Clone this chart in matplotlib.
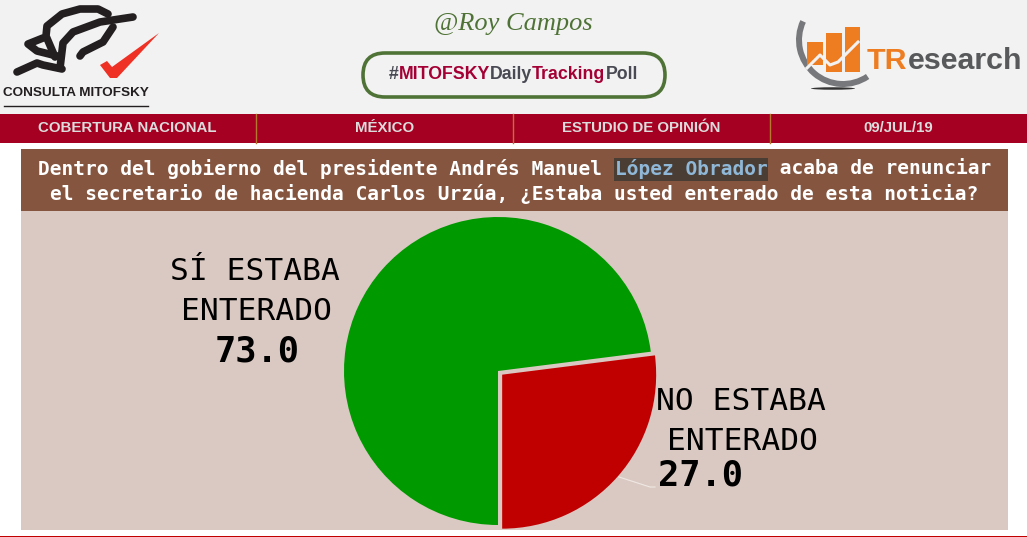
import matplotlib
matplotlib.use("Agg")
import matplotlib.pyplot as plt
from matplotlib.patches import Rectangle, FancyBboxPatch, Polygon, Ellipse, Wedge

# datos
categorias = ["NO ESTABA", "SÍ ESTABA"]
valores = [27.0, 73.0]
colores = ["#C00000", "#009900"]
encabezado = ["COBERTURA NACIONAL", "MÉXICO", "ESTUDIO DE OPINIÓN", "09/JUL/19"]
linea1 = ["Dentro del gobierno del presidente Andrés Manuel ", "López Obrador", " acaba de renunciar"]
linea2 = "el secretario de hacienda Carlos Urzúa, ¿Estaba usted enterado de esta noticia?"
hashtag = [("#", "#4A4A55"), ("MITOFSKY", "#A50035"), ("Daily", "#4A4A55"),
           ("Tracking", "#A50035"), ("Poll", "#4A4A55")]

W, H = 1027, 537
MONO = "DejaVu Sans Mono"
ARIAL = "Liberation Sans"

fig = plt.figure(figsize=(W / 100, H / 100), dpi=100, facecolor="white")

# fondo en coordenadas de pixel
bg = fig.add_axes([0, 0, 1, 1])
bg.set_xlim(0, W)
bg.set_ylim(H, 0)
bg.axis("off")


def caja(x0, y0, x1, y1, color, z=1):
    bg.add_patch(Rectangle((x0, y0), x1 - x0, y1 - y0, fc=color, ec="none", zorder=z))


def texto_seguido(x, y, partes, size, family, weight="bold"):
    # escribe trozos de distinto color uno tras otro
    r = fig.canvas.get_renderer()
    for s, c in partes:
        t = bg.text(x, y, s, color=c, fontsize=size, family=family, weight=weight,
                    ha="left", va="center", zorder=5)
        x += t.get_window_extent(r).width


caja(0, 0, W, 114, "#F2F2F2")
caja(0, 114, W, 143, "#A50021")
for xs in [256, 513, 770]:
    bg.plot([xs, xs], [114, 143], color="#B5782F", lw=1, zorder=2)
for i, s in enumerate(encabezado):
    bg.text(127.5 + i * 257, 128, s, color="#DCDCDC", fontsize=10.8, family=ARIAL,
            weight="bold", ha="center", va="center", zorder=3)

caja(21, 149, 1008, 211, "#85553F")
caja(21, 211, 1008, 530, "#DAC9C2")
caja(0, 535.5, W, 537, "#C00000")

# pregunta
paso = 11.77
y1, y2 = 169, 194
caja(614, 158, 768, 181, "#4A3D34", z=2)
bg.text(38, y1, linea1[0], color="white", fontsize=14, family=MONO, weight="bold", va="center", zorder=3)
bg.text(38 + len(linea1[0]) * paso, y1, linea1[1], color="#8FB8D8", fontsize=14, family=MONO,
        weight="bold", va="center", zorder=3)
bg.text(38 + (len(linea1[0]) + len(linea1[1])) * paso, y1, linea1[2], color="white", fontsize=14,
        family=MONO, weight="bold", va="center", zorder=3)
bg.text(50, y2, linea2, color="white", fontsize=14, family=MONO, weight="bold", va="center", zorder=3)

# logo mitofsky
trazos = [
    [(108, 14), (98, 9), (80, 9), (62, 14), (47, 26), (46, 36), (55, 57)],
    [(133, 17), (100, 22), (73, 32), (63, 43), (60, 68)],
    [(113, 27), (103, 42), (83, 52), (80, 56)],
    [(43, 38), (28, 44), (37, 51), (57, 56)],
    [(17, 72), (37, 63), (43, 65), (62, 69)],
]
for tr in trazos:
    bg.plot(*zip(*tr), color="#231F20", lw=5.5, solid_capstyle="round", solid_joinstyle="round", zorder=3)
bg.add_patch(Polygon([(100, 65), (107, 61), (112, 67), (159, 33), (117, 78), (110, 78)],
                     fc="#EE3124", ec="none", zorder=3))
bg.text(76, 93, "CONSULTA MITOFSKY", color="#231F20", fontsize=9.7, family=ARIAL, weight="bold",
        ha="center", va="center", zorder=3)
bg.plot([4, 148], [105.5, 105.5], color="#231F20", lw=1, zorder=3)

# firma y hashtag
bg.text(513, 24, "@Roy Campos", color="#4F7336", fontsize=19, family="Liberation Serif",
        style="italic", ha="center", va="center", zorder=3)
bg.add_patch(FancyBboxPatch((363, 53), 302, 44, boxstyle="round,pad=0,rounding_size=22",
                            fc="none", ec="#4F7336", lw=2.6, mutation_aspect=1, zorder=3))
texto_seguido(389, 74.5, hashtag, 12.8, ARIAL)

# logo tresearch
bg.add_patch(Wedge((843, 40), 47, 56, 205, width=6, fc="#77787B", ec="none", zorder=3))
barras = [(807, 42, 823, 65), (826, 33, 842, 72), (845, 27, 860, 72)]
for bx0, by0, bx1, by1 in barras:
    caja(bx0, by0, bx1, by1, "#EE7D22", z=4)
bg.plot([807, 820, 830, 838, 858], [68, 55, 65, 62, 42], color="#F2F2F2", lw=2.2, zorder=5)
bg.add_patch(Ellipse((833, 88.5), 44, 2.5, fc="#333333", ec="none", zorder=3))
texto_seguido(867, 61, [("TR", "#EE7D22"), ("esearch", "#58595B")], 21.9, ARIAL)

# pie: radio 154 px, centro en (498, 371)
R = 154.0
cx, cy = 498.0, 371.0
lado = 2.5 * R
ax = fig.add_axes([(cx - lado / 2) / W, 1 - (cy + lado / 2) / H, lado / W, lado / H])
ax.patch.set_alpha(0)
ax.pie(valores, colors=colores, startangle=-90, counterclock=True, explode=[0.036, 0])
ax.set_xlim(-1.25, 1.25)
ax.set_ylim(-1.25, 1.25)

# etiquetas
bg.text(255, 272, categorias[1], fontsize=22.5, family=MONO, ha="center", va="center", color="black", zorder=6)
bg.text(256, 311, "ENTERADO", fontsize=22.5, family=MONO, ha="center", va="center", color="black", zorder=6)
bg.text(257, 351, f"{valores[1]:.1f}", fontsize=25.5, family=MONO, weight="bold", ha="center", va="center", color="black", zorder=6)
bg.text(741, 402, categorias[0], fontsize=22.5, family=MONO, ha="center", va="center", color="black", zorder=6)
bg.text(742, 441, "ENTERADO", fontsize=22.5, family=MONO, ha="center", va="center", color="black", zorder=6)
bg.text(700, 476, f"{valores[0]:.1f}", fontsize=25.5, family=MONO, weight="bold", ha="center", va="center", color="black", zorder=6)
bg.plot([619, 650, 655], [477, 487, 487], color="#F0E8E4", lw=0.8, zorder=6)

fig.savefig("out.png", dpi=100)
